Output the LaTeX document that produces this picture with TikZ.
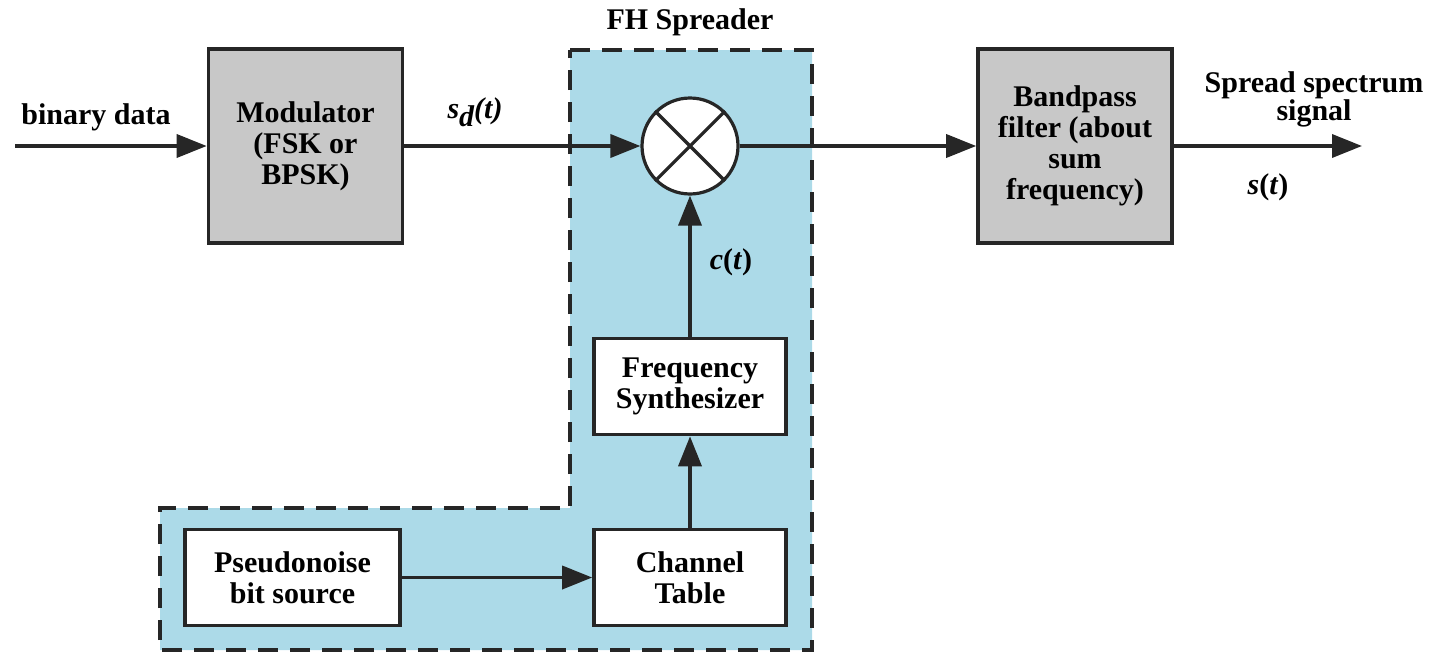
\documentclass[tikz,border=0pt]{standalone}
\usepackage{fontspec}
\setmainfont{Liberation Serif}
\usetikzlibrary{arrows.meta}
\definecolor{spreadblue}{RGB}{172,218,232}
\definecolor{boxgray}{RGB}{200,200,200}
\begin{document}
\begin{tikzpicture}[x=0.5pt,y=-0.5pt,
  every node/.style={font=\bfseries\fontsize{15}{15.5}\selectfont},
  block/.style={draw=black!85,line width=1.8pt,align=center,inner sep=0pt},
  graybox/.style={block,fill=boxgray,minimum width=97pt,minimum height=97pt},
  whitebox/.style={block,fill=white,minimum width=96pt,minimum height=48pt},
  sig/.style={line width=1.8pt,draw=black!85,-{Triangle[length=15pt,width=11.5pt]}},
  lbl/.style={inner sep=1pt,align=center}]
\useasboundingbox (0,0) rectangle (1438,653);

% shaded region of the frequency-hopping spreader
\draw[fill=spreadblue,draw=black!85,line width=2pt,dash pattern=on 10pt off 6pt]
  (570,50) -- (812,50) -- (812,650) -- (160,650) -- (160,508) -- (570,508) -- cycle;
\node[lbl] (fhlbl) at (690,22) {FH Spreader};

% blocks
\node[graybox] (mod) at (305.5,146) {Modulator\\(FSK or\\BPSK)};
\node[graybox] (bp) at (1075,146) {Bandpass\\filter (about\\sum\\frequency)};
\node[circle,draw=black!85,fill=white,line width=1.6pt,minimum size=48pt,inner sep=0pt] (mult) at (690,146) {};
\draw[line width=1.6pt,draw=black!85] (mult.north west) -- (mult.south east)
  (mult.north east) -- (mult.south west);
\node[whitebox] (fs) at (690,386.5) {Frequency\\Synthesizer};
\node[whitebox] (ct) at (690,577.5) {Channel\\Table};
\node[whitebox,minimum width=107.5pt] (pn) at (292.5,577.5) {Pseudonoise\\bit source};

% free ends
\coordinate (in) at (15,146);
\coordinate (out) at (1362,146);

% connectors
\draw[sig] (in) -- (mod.west);
\draw[sig] (mod.east) -- (mult.west);
\draw[sig] (mult.east) -- (bp.west);
\draw[sig] (bp.east) -- (out);
\draw[sig] (fs.north) -- (mult.south);
\draw[sig] (ct.north) -- (fs.south);
\draw[sig] (pn.east) -- (ct.west);

% signal labels
\node[lbl] (bdlbl) at (96,117) {binary data};
\node[lbl] (sdlbl) at (475,112) {\textit{s\raisebox{-0.6ex}{d}(t)}};
\node[lbl] (ctlbl) at (731,262) {\textit{c}(\textit{t})};
\node[lbl,font=\bfseries\fontsize{15}{14}\selectfont] (sslbl) at (1314,99) {Spread spectrum\\signal};
\node[lbl] (stlbl) at (1268,187) {\textit{s}(\textit{t})};
\end{tikzpicture}
\end{document}
